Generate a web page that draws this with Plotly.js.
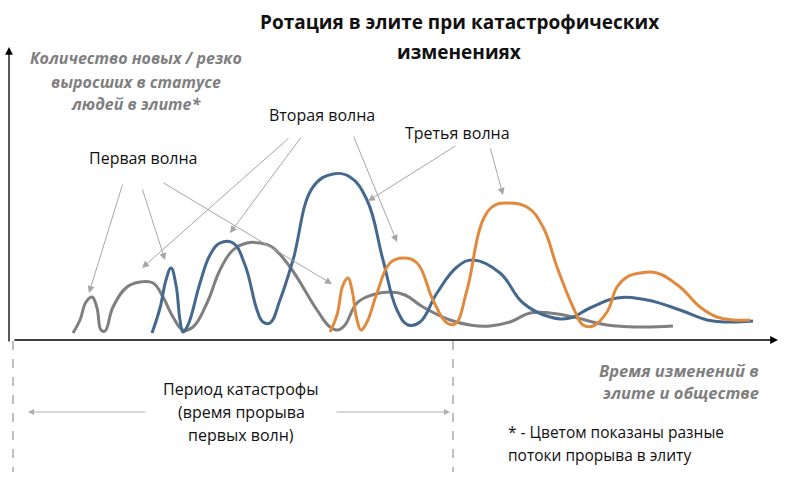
<!DOCTYPE html>
<html>
<head>
<meta charset="utf-8">
<script src="https://cdn.plot.ly/plotly-3.0.1.min.js"></script>
<style>html,body{margin:0;padding:0;background:#fff;}#chart{width:788px;height:477px;}</style>
</head>
<body>
<div id="chart"></div>
<script>
// Conceptual curves: time (x) vs. number of new elite members (y, height above baseline)
var grayX = [73,80,86,92,97,101,105,113,127,140,153,163,173,183,193,207,220,233,247,260,272,290,317,330,338,345,357,372,390,405,423,450,470,490,510,530,550,573,607,640,673];
var grayY = [7,20,38,43,32,10,9,33,53,58,57,43,23,10,13,37,70,90,97,97,93,73,30,13,10,15,37,45,48,45,33,20,15,14,18,27,27,23,15,13,14];

var blueX = [152,160,166,171,176,180,183,188,200,210,220,233,245,257,263,270,280,293,313,333,350,367,383,397,408,420,437,457,473,500,523,550,570,590,617,647,680,707,727,753];
var blueY = [7,32,60,72,55,20,8,15,57,85,97,97,75,30,18,17,40,80,153,166,163,140,80,30,15,18,47,73,80,67,37,23,22,32,42,40,30,20,18,19];

var orangeX = [330,337,343,348,352,357,361,367,377,390,403,417,433,447,455,467,483,495,507,527,543,557,573,583,593,607,617,627,640,657,680,700,717,733,750];
var orangeY = [8,25,55,62,50,20,10,18,47,77,82,77,40,17,16,50,120,135,137,133,113,73,33,15,14,28,53,63,67,67,53,33,23,20,20];

var seriesNames = ["Поток 1", "Поток 2", "Поток 3"];
var waveLabels = ["Первая волна", "Вторая волна", "Третья волна"];
var titleLines = ["Ротация в элите при катастрофических", "изменениях"];
var yLabelLines = ["Количество новых / резко", "выросших в статусе", "людей в элите*"];
var xLabelLines = ["Время изменений в", "элите и обществе"];
var periodLines = ["Период катастрофы", "(время прорыва", "первых волн)"];
var noteLines = ["* - Цветом показаны разные", "потоки прорыва в элиту"];

var FONT = "Open Sans, sans-serif";
function lineTrace(x, y, color, name) {
  return {x: x, y: y, type: 'scatter', mode: 'lines', name: name,
    line: {color: color, width: 3, shape: 'spline', smoothing: 1.2}, hoverinfo: 'skip'};
}
var data = [
  lineTrace(grayX, grayY, '#7f7f7f', seriesNames[0]),
  lineTrace(blueX, blueY, '#44688e', seriesNames[1]),
  lineTrace(orangeX, orangeY, '#e08a3e', seriesNames[2])
];

function py(p) { return 340 - p; }  // helper: convert page row to y value
var ann = [];
function txt(t, x, p, opts) {
  var a = {x: x, y: py(p), xref: 'x', yref: 'y', text: t, showarrow: false,
    xanchor: 'center', yanchor: 'middle', font: {family: FONT, size: 16, color: '#111'}};
  for (var k in opts) a[k] = opts[k];
  ann.push(a);
}
function arr(x0, p0, x1, p1, color, width, size) {
  ann.push({x: x1, y: py(p1), ax: x0, ay: py(p0), xref: 'x', yref: 'y', axref: 'x', ayref: 'y',
    text: '', showarrow: true, arrowhead: 2, arrowsize: size || 1.4, arrowwidth: width || 1,
    arrowcolor: color || '#a6a6a6'});
}

// title (two lines)
var tl = [22, 52];
titleLines.forEach(function (l, i) {
  txt('<b>' + l + '</b>', 459, tl[i], {font: {family: FONT, size: 19, color: '#111'}});
});

// y label
var yl = [58, 82, 104];
yLabelLines.forEach(function (l, i) {
  txt('<b><i>' + l + '</i></b>', 136, yl[i], {font: {family: FONT, size: 16, color: '#7f7f7f'}});
});
// x label
var xl = [370, 392];
xLabelLines.forEach(function (l, i) {
  txt('<b><i>' + l + '</i></b>', 761, xl[i], {xanchor: 'right', font: {family: FONT, size: 16.5, color: '#7f7f7f'}});
});
// period
var pl = [389, 412, 435];
periodLines.forEach(function (l, i) { txt(l, 241, pl[i]); });
// note
var nl = [432, 455];
noteLines.forEach(function (l, i) { txt(l, 506, nl[i], {xanchor: 'left', font: {family: FONT, size: 15.5, color: '#111'}}); });
// wave labels
txt(waveLabels[0], 143, 158);
txt(waveLabels[1], 322, 115);
txt(waveLabels[2], 457, 133);

// wave arrows
arr(123, 183, 89, 293);
arr(142, 188, 165, 260);
arr(162, 182, 332, 284);
arr(290, 137, 142, 268);
arr(302, 136, 230, 233);
arr(353, 135, 397, 242);
arr(457, 145, 368, 201);
arr(490, 147, 503, 195);

// axes arrows
arr(9, 343, 9, 47, '#000', 1.3, 1.2);
arr(13, 340, 778, 340, '#000', 1.3, 1.2);
// period double arrow
arr(147, 412, 28, 412, '#b0b0b0', 1, 1.2);
arr(335, 412, 450, 412, '#b0b0b0', 1, 1.2);

var shapes = [13, 453].map(function (x) {
  return {type: 'line', xref: 'x', yref: 'y', x0: x, x1: x, y0: py(341), y1: py(472),
    line: {color: '#808080', width: 1, dash: 'dash'}};
});

var layout = {
  width: 788, height: 477, autosize: false,
  margin: {l: 0, r: 0, t: 0, b: 0},
  paper_bgcolor: '#fff', plot_bgcolor: '#fff',
  showlegend: false,
  xaxis: {range: [0, 788], visible: false, fixedrange: true},
  yaxis: {range: [py(477), py(0)], visible: false, fixedrange: true},
  annotations: ann, shapes: shapes
};
Plotly.newPlot('chart', data, layout, {displayModeBar: false, staticPlot: true});
</script>
</body>
</html>
